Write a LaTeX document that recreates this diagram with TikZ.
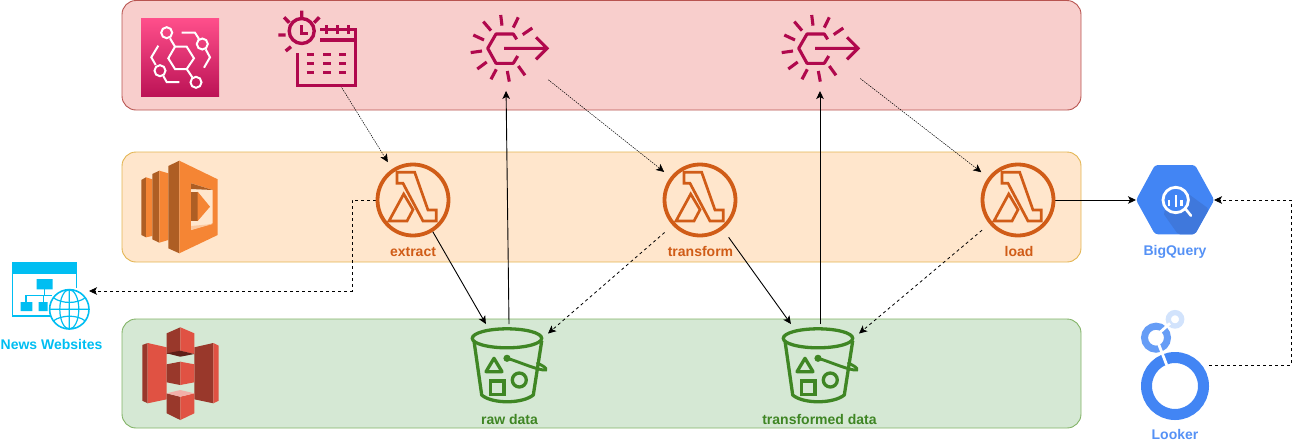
\documentclass[tikz,border=0pt]{standalone}
\usepackage{fontspec}
\setmainfont{Liberation Sans}
\usetikzlibrary{arrows.meta}
\definecolor{EventPink}{HTML}{B0084D}
\definecolor{PinkTop}{HTML}{FF4F8B}
\definecolor{PinkBottom}{HTML}{BC1356}
\definecolor{LambdaOrange}{HTML}{D05C17}
\definecolor{BucketGreen}{HTML}{3F8624}
\definecolor{NewsBlue}{HTML}{00BEF2}
\definecolor{GoogleBlue}{HTML}{4285F4}
\definecolor{GoogleShade}{HTML}{3F78DC}
\definecolor{GoogleMid}{HTML}{669DF6}
\definecolor{GooglePale}{HTML}{D2E3FC}
\definecolor{ServiceOrange}{HTML}{F58534}
\definecolor{ServiceBrown}{HTML}{AE5E24}
\definecolor{ServicePale}{HTML}{FBC9A0}
\definecolor{StoreRed}{HTML}{E05243}
\definecolor{StoreDark}{HTML}{99382B}
\definecolor{StoreDeep}{HTML}{5E1F18}
\definecolor{StorePale}{HTML}{F2B0A9}
\definecolor{PanelRed}{HTML}{F8CECC}
\definecolor{PanelRedLine}{HTML}{B85450}
\definecolor{PanelOrange}{HTML}{FFE6CC}
\definecolor{PanelOrangeLine}{HTML}{E3B552}
\definecolor{PanelGreen}{HTML}{D5E8D4}
\definecolor{PanelGreenLine}{HTML}{82B366}
\tikzset{
  panel/.style={line width=.9pt,rounded corners=14pt},
  iconspot/.style 2 args={inner sep=0pt,outer sep=0pt,minimum width=#1,minimum height=#2},
  roundspot/.style={circle,inner sep=0pt,outer sep=0pt,minimum size=#1},
  iconlabel/.style={font=\fontsize{14}{16}\selectfont\bfseries,text=#1,inner sep=0pt},
  flow/.style={black,line width=.9pt,-{Stealth[length=8pt,width=7.5pt,inset=2pt]}},
  flowdash/.style={flow,line width=.8pt,dash pattern=on 3pt off 3pt},
  flowdot/.style={flow,line width=.5pt,dash pattern=on 1.5pt off 1pt},
  eventicon/.pic={
    \draw[EventPink,line width=3.1pt,line join=round] (6.7,-9)--(3.3,-14.3)--(-14,-14.3)--(-22.3,0)--(-14,15)--(3.3,15)--(7.7,7.7);
    \draw[EventPink,line width=3.1pt] (-6,0)--(36.3,0) (26,-11)--(37,0)--(26,11);
    \draw[EventPink,line width=3.1pt] (-9.3,-33.3)--(-8,-22.7) (8.3,-31)--(3.3,-20.7) (22.3,-20.3)--(12.7,-13.7) (-26.7,-26.7)--(-19,-17.7) (-36.7,-13.3)--(-26,-8.3) (-39.3,4.3)--(-28,2.7) (-32.7,20.7)--(-23.3,13.7) (-19,31)--(-13.7,21) (-.7,33.3)--(-2.7,22.7) (15,27)--(8.3,17.7);
  },
  lambdaicon/.pic={
    \draw[LambdaOrange,line width=3.8pt] (0,0) circle (35.5);
    \draw[LambdaOrange,line width=2.7pt] (-16,-27.7)--(1.7,-27.7)--(15,10)--(23.3,10)--(23.3,21)--(10,21)--(-10,-16.7)--(-16,-16.7)--cycle;
    \draw[LambdaOrange,line width=2.7pt] (-9.3,-6)--(-24,21)--(-6,21)--(0,9.7)--cycle;
  },
  bucketicon/.pic={
    \draw[BucketGreen,line width=3.3pt] (0,-26.7) ellipse (34.7 and 9.5);
    \draw[BucketGreen,line width=3.3pt,line join=round] (-33,-24)--(-25.3,30) .. controls (-15,39) and (15,39) .. (26.3,30)--(34.7,-24);
    \draw[BucketGreen,line width=3.3pt,line join=round] (-13,-6.7)--(-21,6.7)--(-5,6.7)--cycle;
    \draw[BucketGreen,line width=3.3pt] (-16.3,16) rectangle (-3,29.3);
    \draw[BucketGreen,line width=3.3pt] (12.3,15) circle (7);
    \fill[BucketGreen] (0,-6.7) circle (3.6);
    \draw[BucketGreen,line width=2.9pt,line cap=round] (0,-6.7) .. controls (10,-4) and (25,3) .. (36,5) .. controls (41,6) and (40,2) .. (30.3,-1.7);
  }
}
\begin{document}
\begin{tikzpicture}[x=1pt,y=-1pt]
  \useasboundingbox (0,0) rectangle (1300,445);
  \draw[panel,draw=PanelRedLine,fill=PanelRed] (122,.5) rectangle (1081,110);
  \draw[panel,draw=PanelOrangeLine,fill=PanelOrange] (122,152) rectangle (1081,262);
  \draw[panel,draw=PanelGreenLine,fill=PanelGreen] (122,319) rectangle (1081,428);

  \node[iconspot={78pt}{76pt}] (schedule) at (317,48) {};
  \node[roundspot=84pt] (eventraw) at (509,49) {};
  \node[roundspot=84pt] (eventtransformed) at (820,49) {};
  \node[roundspot=74pt] (extract) at (413,200) {};
  \node[roundspot=74pt] (transform) at (700,200) {};
  \node[roundspot=74pt] (load) at (1018,200) {};
  \node[iconspot={78pt}{80pt}] (rawdata) at (509,364) {};
  \node[iconspot={78pt}{80pt}] (transformeddata) at (820,364) {};
  \node[iconspot={78pt}{70pt}] (bigquery) at (1175,200) {};
  \node[iconspot={68pt}{68pt}] (looker) at (1175,365) {};
  \node[iconspot={77pt}{60pt}] (news) at (50.5,291) {};

  \draw[flowdot,shorten >=8.5pt] (schedule.-58.8)--(extract.124);
  \draw[flow] (extract.-58.8)--(rawdata.120);
  \draw[flow] (rawdata.north)--(eventraw.266);
  \draw[flowdot,shorten <=8pt,shorten >=8.5pt] (eventraw.-38.5)--(transform.142);
  \draw[flowdash,shorten <=11pt] (transform.223)--(rawdata.38.5);
  \draw[flow,shorten <=10pt] (transform.-52)--(transformeddata.126.6);
  \draw[flow] (transformeddata.north)--(eventtransformed.south);
  \draw[flowdot,shorten <=8pt,shorten >=9pt] (eventtransformed.-36.6)--(load.143);
  \draw[flowdash,shorten <=10pt] (load.220)--(transformeddata.38.5);
  \draw[flow] (load.east)--(bigquery.west);
  \draw[flowdash] (extract.west)--++(-24,0)|-(news.east);
  \draw[flowdash] (looker.east)--++(82,0)|-(bigquery.east);

  \shade[top color=PinkTop,bottom color=PinkBottom] (141,18) rectangle (219,96);
  \begin{scope}[white,line width=2pt]
    \draw (168.3,58.3)--(175,46.7)--(186.7,46.7)--(194,58.3)--(186.7,69)--(175,69)--cycle;
    \draw (166.7,32.7) circle (5.5) (202.3,44) circle (5.5) (160,70.7) circle (5.5) (196,82.3) circle (5.5);
    \draw (170,38.3)--(175,46.7) (186.7,69)--(192.3,77.3);
    \draw (181.7,32.7)--(195,32.7)--(199,39) (205.7,49.3)--(210,57.3)--(204,67.7);
    \draw (158.3,45.7)--(151.3,57.3)--(155.7,65) (163.3,76)--(166.7,82)--(179.3,82);
  \end{scope}

  \begin{scope}[EventPink,line width=3.4pt]
    \draw (301.7,31) circle (12.5);
    \draw[line width=2.6pt] (301.7,25)--(301.7,33.3)--(308.3,33.3);
    \draw (301.7,10.7)--(301.7,17.3) (319.3,17.3)--(314,22.7) (284,17.3)--(289.3,22.7) (278.3,35)--(285.7,35) (285.7,51)--(291,46.7);
    \draw (297.7,53.3)--(297.7,85.3)--(355.3,85.3)--(355.3,29.3)--(320,29.3) (320,40)--(355.3,40);
    \draw[line width=2.6pt] (326.7,25)--(326.7,34.3) (337.3,25)--(337.3,34.3) (348.3,25)--(348.3,34.3);
    \foreach \rowy in {54.3,63.3,72.3}
      \draw (306.7,\rowy)--(314,\rowy) (323.3,\rowy)--(330.7,\rowy) (339,\rowy)--(346,\rowy);
  \end{scope}
  \pic at (510,48.3) {eventicon};
  \pic at (821,48.3) {eventicon};

  \fill[ServiceBrown] (141.3,180)--(146,177.3)--(146,237.3)--(141.3,235)--cycle;
  \fill[ServiceOrange] (146,177.3)--(152.3,179.3)--(152.3,236)--(146,237.3)--cycle;
  \fill[ServiceBrown] (152.3,174)--(159.3,170.7)--(159.3,242.7)--(152.3,239.3)--cycle;
  \fill[ServiceOrange] (159.3,170.7)--(168.3,173.3)--(168.3,240)--(159.3,242.7)--cycle;
  \fill[ServiceBrown] (168.3,166)--(179.3,160.7)--(179.3,253.3)--(168.3,248.3)--cycle;
  \fill[ServiceOrange] (179.3,160.7)--(217.7,179.3)--(217.7,235)--(179.3,253.3)--cycle;
  \fill[PanelOrange] (191,183.3)--(212.7,190)--(212.7,223.3)--(191,230)--cycle;
  \fill[ServiceBrown] (191,183.3)--(212.7,190)--(191,189)--cycle;
  \fill[ServicePale] (191,230)--(212.7,224)--(191,226)--cycle;
  \fill[ServiceBrown] (191,191.7)--(197.7,191.7)--(197.7,221)--(191,221)--cycle;
  \fill[ServiceOrange] (197.7,191.7)--(210,206.7)--(197.7,221)--cycle;

  \pic at (413,200) {lambdaicon};
  \pic at (700,200) {lambdaicon};
  \pic at (1018,200) {lambdaicon};
  \node[iconlabel=LambdaOrange] (extractlabel) at (413,252) {extract};
  \node[iconlabel=LambdaOrange] (transformlabel) at (700.5,251) {transform};
  \node[iconlabel=LambdaOrange] (loadlabel) at (1019,251) {load};

  \fill[StoreDark] (142.3,345)--(147.7,343)--(147.7,403.3)--(142.3,400.7)--cycle;
  \fill[StoreRed] (147.7,343)--(166.7,347.3)--(166.7,399.3)--(147.7,403.3)--cycle;
  \fill[StoreDark] (194.3,347.3)--(213.3,343)--(213.3,403.3)--(194.3,399.3)--cycle;
  \fill[StoreRed] (213.3,343)--(218.7,345.7)--(218.7,400.7)--(213.3,403.3)--cycle;
  \fill[StoreDark] (166.7,333.3)--(180.3,327.3)--(180.3,351)--(166.7,354)--cycle;
  \fill[StoreRed] (180.3,327.3)--(194.3,333.3)--(194.3,354)--(180.3,351)--cycle;
  \fill[StoreDeep] (166.7,353.3)--(180.3,350.7)--(194.3,354)--(180.3,356.7)--cycle;
  \fill[StoreDark] (166.7,364.3)--(180.3,361.7)--(180.3,385)--(166.7,382.3)--cycle;
  \fill[StoreRed] (180.3,361.7)--(194.3,364.3)--(194.3,382.3)--(180.3,385)--cycle;
  \fill[StoreDark] (166.7,393.3)--(180.3,396.7)--(180.3,420)--(166.7,413.3)--cycle;
  \fill[StoreRed] (180.3,396.7)--(194.3,393.3)--(194.3,413.3)--(180.3,420)--cycle;
  \fill[StorePale] (166.7,393.3)--(180.3,390)--(194.3,393.3)--(180.3,396.7)--cycle;

  \pic at (507,365) {bucketicon};
  \pic at (818,365) {bucketicon};
  \node[iconlabel=BucketGreen] (rawlabel) at (509.5,419) {raw data};
  \node[iconlabel=BucketGreen] (transformedlabel) at (819.5,419) {transformed data};

  \fill[NewsBlue] (11.7,262.3) rectangle (76.7,274);
  \draw[NewsBlue,line width=1.3pt] (12.3,274)--(12.3,316)--(50,316) (76.3,274)--(76.3,288.3);
  \fill[NewsBlue] (36.7,279) rectangle (52.7,289.3) (20.7,302) rectangle (32.3,311) (38.7,302) rectangle (47.7,311);
  \draw[NewsBlue,line width=1.2pt] (44.7,289.3)--(44.7,295.7) (26,302)--(26,295.7)--(51.7,295.7) (43.3,295.7)--(43.3,302);
  \draw[NewsBlue,fill=white,line width=1.6pt] (69.3,309.3) circle (19.7);
  \draw[NewsBlue,line width=1.2pt] (69.3,309.3) ellipse (9.5 and 19.7) (69.3,289.6)--(69.3,329) (49.6,309.3)--(89,309.3);
  \draw[NewsBlue,line width=1.2pt] (53.3,297.7) .. controls (62,304) and (77,304) .. (85.3,297.7) (53.3,320.9) .. controls (62,314.6) and (77,314.6) .. (85.3,320.9);
  \node[iconlabel=NewsBlue] (newslabel) at (51.5,344) {News Websites};

  \fill[GoogleBlue,rounded corners=3pt] (1136,200)--(1155,165)--(1195,165)--(1214.3,200)--(1195,234.3)--(1155,234.3)--cycle;
  \fill[GoogleShade,rounded corners=2pt] (1183,190)--(1209,209)--(1195,234.3)--(1178,234.3)--(1163,213)--cycle;
  \fill[GoogleBlue] (1175.7,200) circle (12.5);
  \draw[white,line width=2.8pt] (1175.7,200) circle (12.7);
  \draw[white,line width=2.6pt,line cap=round] (1185,208.3)--(1191,215.7);
  \draw[white,line width=2.2pt] (1169.3,200)--(1169.3,206) (1175.7,195)--(1175.7,206.7) (1181.5,200)--(1181.5,206);
  \node[iconlabel=GoogleBlue!90!white] (bigquerylabel) at (1175,251.5) {BigQuery};

  \draw[GoogleBlue,line width=11pt] (1175,386) circle (28.5);
  \draw[GoogleMid,line width=7pt] (1156,337.7) circle (11.5);
  \draw[GooglePale,line width=5.3pt] (1175,319.3) circle (6.7);
  \draw[white,line width=2.8pt] (1160,332.3)--(1170,323.3) (1158.3,343.3)--(1166.7,365);
  \node[iconlabel=GoogleBlue!90!white] (lookerlabel) at (1175,434.5) {Looker};
\end{tikzpicture}
\end{document}
